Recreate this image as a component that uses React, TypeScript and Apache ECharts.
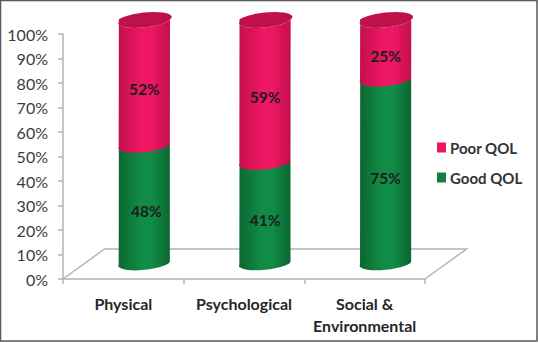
import React, { useEffect, useRef } from "react";
import * as echarts from "echarts";

const categories = ["Physical", "Psychological", "Social &\nEnvironmental"];
const goodQol = [48, 41, 75];
const poorQol = [52, 59, 25];
const goodName = "Good QOL";
const poorName = "Poor QOL";
const axisMax = 100;
const axisStep = 10;

const FONT = "Lato";
const DX = 21;
const DY = -14.5;
const RX = 25.5;
const RY = 6.5;
const TILT = 2.6;
const ROT = -5.8;

const shade = (edge: string, mid: string) => ({
  type: "linear", x: 0, y: 0, x2: 1, y2: 0,
  colorStops: [
    { offset: 0, color: edge },
    { offset: 0.45, color: mid },
    { offset: 0.65, color: mid },
    { offset: 1, color: edge },
  ],
});

const cylinder = (fill: any, capColor: string | null, flatTop: boolean) =>
  (_p: any, api: any) => {
    const [x0, y0] = api.coord([api.value(0), api.value(1)]);
    const [, y1] = api.coord([api.value(0), api.value(2)]);
    const cx = x0 + DX;
    const yb = y0 + DY;
    const yt = y1 + DY;
    const lx = cx - RX;
    const rx = cx + RX;
    const arc = `${RX} ${RY} ${ROT}`;
    const upper = flatTop
      ? `L ${rx} ${yt - TILT}`
      : `A ${arc} 0 0 ${rx} ${yt - TILT}`;
    const d = `M ${lx} ${yt + TILT} ${upper} L ${rx} ${yb - TILT} A ${arc} 0 1 ${lx} ${yb + TILT} Z`;
    const children: any[] = [
      { type: "path", shape: { pathData: d }, style: { fill, stroke: null } },
    ];
    if (capColor) {
      children.push({
        type: "path",
        shape: {
          pathData: `M ${lx} ${yt + TILT} A ${arc} 0 0 ${rx} ${yt - TILT} A ${arc} 0 0 ${lx} ${yt + TILT} Z`,
        },
        style: { fill: capColor, stroke: null },
      });
    }
    children.push({
      type: "text",
      style: {
        x: cx + (api.value(3) === 48 ? 2 : 0),
        y: (yb + yt) / 2 + 5.5,
        text: `${api.value(3)}%`,
        fill: "#1c1c1c",
        font: `bold 15.5px ${FONT}`,
        align: "center",
        verticalAlign: "middle",
      },
    });
    return { type: "group", children };
  };

const floor = (_p: any, api: any) => {
  const [x0, y0] = api.coord([0, 0]);
  const band = api.size([1, 0])[0];
  const x3 = x0 - band / 2 + band * categories.length;
  const xa = x0 - band / 2;
  const depthX = 41.5;
  const depthY = -30;
  return {
    type: "polyline",
    shape: {
      points: [
        [xa, y0],
        [xa + depthX, y0 + depthY],
        [x3 + depthX, y0 + depthY],
        [x3, y0],
      ],
    },
    style: { fill: null, stroke: "#b4b4b4", lineWidth: 1.5 },
    silent: true,
  };
};

const axisColor = "#b4b4b4";

export default function App() {
  const ref = useRef<HTMLDivElement>(null);
  useEffect(() => {
    document.body.style.margin = "0";
    const chart = echarts.init(ref.current!, undefined, { renderer: "svg" });
    chart.setOption({
      animation: false,
      backgroundColor: "#ffffff",
      grid: { left: 63, right: 113, top: 34, height: 245 },
      legend: {
        data: [poorName, goodName],
        orient: "vertical",
        left: 432,
        top: 135,
        itemWidth: 9,
        itemHeight: 10,
        itemGap: 15,
        icon: "rect",
        textStyle: { fontFamily: FONT, fontSize: 15, fontWeight: "bold", color: "#333333", padding: [0, 0, 0, -1] },
      },
      xAxis: {
        type: "category",
        data: categories,
        axisLine: { lineStyle: { color: axisColor, width: 1.5 } },
        axisTick: { show: true, length: 5, alignWithLabel: false, lineStyle: { color: axisColor, width: 1.5 } },
        axisLabel: {
          interval: 0, margin: 13, fontFamily: FONT, fontSize: 16, fontWeight: "bold",
          color: "#262626", lineHeight: 22,
        },
      },
      yAxis: {
        type: "value",
        min: 0,
        max: axisMax,
        interval: axisStep,
        splitLine: { show: false },
        axisLine: { show: true, lineStyle: { color: axisColor, width: 1.5 } },
        axisTick: { show: true, length: 5, lineStyle: { color: axisColor, width: 1.5 } },
        axisLabel: {
          formatter: "{value}%", margin: 15, fontFamily: FONT, fontSize: 16, color: "#3c3c3c",
        },
      },
      graphic: [
        {
          type: "rect",
          z: 100,
          shape: { x: 0.5, y: 0.5, width: 536.5, height: 340.5 },
          style: { fill: "none", stroke: "#595959", lineWidth: 1.5 },
          silent: true,
        },
      ],
      series: [
        {
          type: "custom",
          name: "floor",
          z: 1,
          silent: true,
          renderItem: floor,
          data: [[0, 0]],
          encode: { x: 0, y: 1 },
        },
        {
          type: "custom",
          name: goodName,
          z: 2,
          itemStyle: { color: "#0f8040" },
          renderItem: cylinder(shade("#0b6630", "#118c46"), null, true),
          encode: { x: 0, y: [1, 2] },
          data: categories.map((_, i) => [i, 0, goodQol[i], goodQol[i]]),
        },
        {
          type: "custom",
          name: poorName,
          z: 3,
          itemStyle: { color: "#e8175f" },
          renderItem: cylinder(shade("#c20f4c", "#ee1763"), "#bd1148", false),
          encode: { x: 0, y: [1, 2] },
          data: categories.map((_, i) => [i, goodQol[i], goodQol[i] + poorQol[i], poorQol[i]]),
        },
      ],
    });
    return () => chart.dispose();
  }, []);
  return <div ref={ref} style={{ position: "absolute", left: 0, top: 0, width: 538, height: 343 }} />;
}
